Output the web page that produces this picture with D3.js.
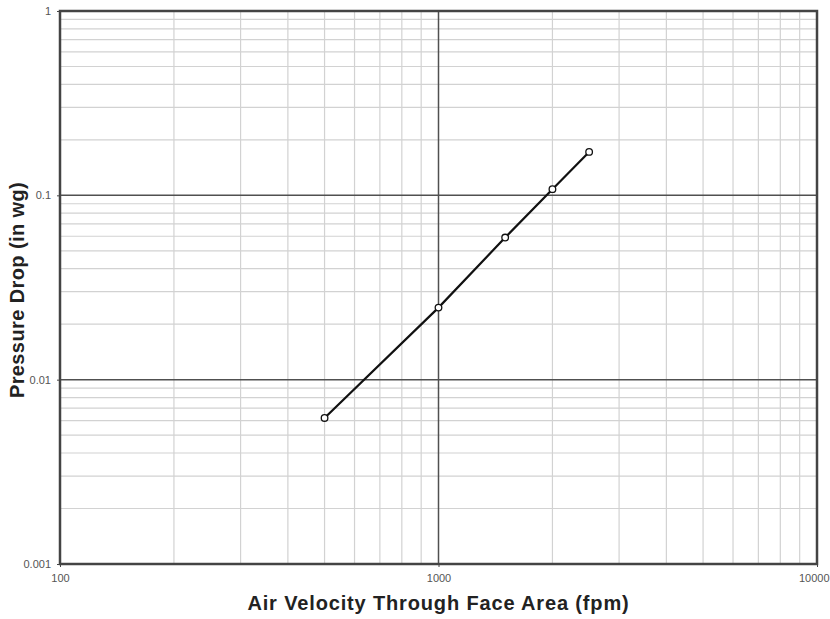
<!DOCTYPE html>
<html>
<head>
<meta charset="utf-8">
<script src="https://cdn.jsdelivr.net/npm/d3@7"></script>
<style>
  body { margin: 0; background: #fff; }
  text { font-family: "Liberation Sans", Arial, sans-serif; }
</style>
</head>
<body>
<div id="chart"></div>
<script>
// data
var velocity = [500, 1000, 1500, 2000, 2500];
var pressure = [0.0062, 0.0246, 0.059, 0.108, 0.172];
var xTicks = [100, 1000, 10000];
var yTicks = [0.001, 0.01, 0.1, 1];
var xTickLabels = ["100", "1000", "10000"];
var yTickLabels = ["0.001", "0.01", "0.1", "1"];

var svgWidth = 830, svgHeight = 619;
var margin = { top: 11, right: 13, bottom: 55, left: 60 };
var width = svgWidth - margin.left - margin.right;
var height = svgHeight - margin.top - margin.bottom;

var svg = d3.select("#chart")
  .append("svg")
  .attr("width", svgWidth)
  .attr("height", svgHeight);

var g = svg.append("g")
  .attr("transform", `translate(${margin.left}, ${margin.top})`);

var xScale = d3.scaleLog().domain([100, 10000]).range([0, width]);
var yScale = d3.scaleLog().domain([0.001, 1]).range([height, 0]);

// minor grid lines (2..9 of each decade)
var xMinor = [], yMinor = [];
[100, 1000].forEach(function(d) {
  for (var k = 2; k <= 9; k++) xMinor.push(d * k);
});
[0.001, 0.01, 0.1].forEach(function(d) {
  for (var k = 2; k <= 9; k++) yMinor.push(d * k);
});

g.selectAll(".xminor")
  .data(xMinor)
  .enter()
  .append("line")
  .attr("x1", d => xScale(d)).attr("x2", d => xScale(d))
  .attr("y1", 0).attr("y2", height)
  .attr("stroke", "#d2d2d2").attr("stroke-width", 1.2);

g.selectAll(".yminor")
  .data(yMinor)
  .enter()
  .append("line")
  .attr("x1", 0).attr("x2", width)
  .attr("y1", d => yScale(d)).attr("y2", d => yScale(d))
  .attr("stroke", "#d2d2d2").attr("stroke-width", 1.2);

// major grid lines
g.selectAll(".xmajor")
  .data(xTicks)
  .enter()
  .append("line")
  .attr("x1", d => xScale(d)).attr("x2", d => xScale(d))
  .attr("y1", 0).attr("y2", height)
  .attr("stroke", "#505050").attr("stroke-width", 1.5);

g.selectAll(".ymajor")
  .data(yTicks)
  .enter()
  .append("line")
  .attr("x1", 0).attr("x2", width)
  .attr("y1", d => yScale(d)).attr("y2", d => yScale(d))
  .attr("stroke", "#505050").attr("stroke-width", 1.5);

// frame
g.append("rect")
  .attr("width", width).attr("height", height)
  .attr("fill", "none")
  .attr("stroke", "#444").attr("stroke-width", 2.5);

// axes (labels only)
var xAxis = d3.axisBottom(xScale)
  .tickValues(xTicks)
  .tickFormat((d, i) => xTickLabels[i])
  .tickSize(3).tickPadding(7);
var yAxis = d3.axisLeft(yScale)
  .tickValues(yTicks)
  .tickFormat((d, i) => yTickLabels[i])
  .tickSize(3).tickPadding(6);

var xg = g.append("g")
  .attr("transform", `translate(0, ${height})`)
  .call(xAxis);
var yg = g.append("g").call(yAxis);

[xg, yg].forEach(function(ax) {
  ax.select(".domain").remove();
  ax.selectAll(".tick line").attr("stroke", "#444");
  ax.selectAll(".tick text")
    .attr("fill", "#555")
    .style("font-size", "11px")
    .style("font-family", "'Liberation Sans', Arial, sans-serif");
});

// last x label sits against the right edge, keep it inside the page
xg.selectAll(".tick text")
  .filter(d => d === 10000)
  .attr("text-anchor", "end")
  .attr("dx", 12);

// line and markers
var points = velocity.map((v, i) => [v, pressure[i]]);
var line = d3.line()
  .x(d => xScale(d[0]))
  .y(d => yScale(d[1]));

g.append("path")
  .datum(points)
  .attr("d", line)
  .attr("fill", "none")
  .attr("stroke", "#111")
  .attr("stroke-width", 2.2);

g.selectAll(".pt")
  .data(points)
  .enter()
  .append("circle")
  .attr("cx", d => xScale(d[0]))
  .attr("cy", d => yScale(d[1]))
  .attr("r", 3.3)
  .attr("fill", "white")
  .attr("stroke", "#111")
  .attr("stroke-width", 1.3);

// axis titles
svg.append("text")
  .attr("x", margin.left + width / 2)
  .attr("y", 610)
  .attr("text-anchor", "middle")
  .style("font-size", "20px")
  .style("font-weight", "bold")
  .style("letter-spacing", "0.85px")
  .attr("fill", "#222")
  .text("Air Velocity Through Face Area (fpm)");

svg.append("text")
  .attr("transform", `translate(24, 290) rotate(-90)`)
  .attr("text-anchor", "middle")
  .style("font-size", "20px")
  .style("font-weight", "bold")
  .style("letter-spacing", "0.4px")
  .attr("fill", "#222")
  .text("Pressure Drop (in wg)");
</script>
</body>
</html>
